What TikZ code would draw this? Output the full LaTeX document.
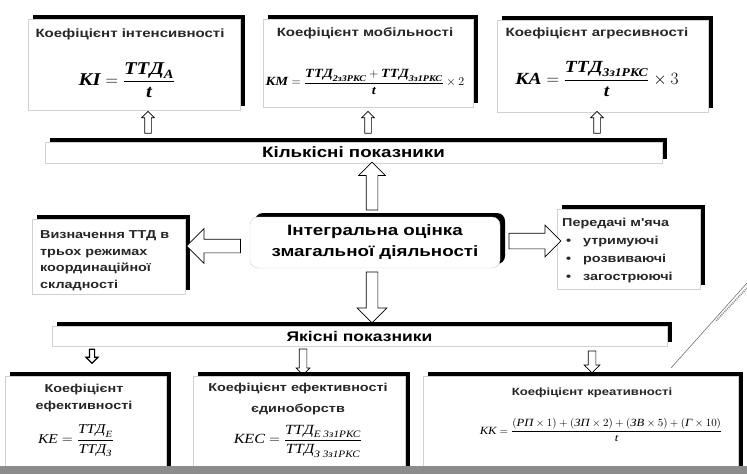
\documentclass[tikz,border=0pt]{standalone}
\usepackage{amsmath}
\usepackage{fontspec}
\usetikzlibrary{shapes.arrows,shadows,calc}
\newfontfamily\wsans[FakeStretch=1.25]{Liberation Sans}
\newfontfamily\fmlf[FakeStretch=1.15]{Liberation Serif}
\newcommand\fmlb{\fmlf\bfseries\itshape}
\newcommand\fmli{\fmlf\itshape}
\newcommand\fmB[1]{\mbox{\fmlb #1}}
\newcommand\fmBs[1]{\text{\fmlb #1}}
\newcommand\fmI[1]{\mbox{\fmli #1}}
\newcommand\fmIs[1]{\text{\fmli #1}}
\begin{document}
\begin{tikzpicture}[x=1pt,y=-1pt,
  sbox/.style={draw=black!18, fill=white, inner sep=0pt, line width=0.4pt,
    general shadow={fill=black, shadow xshift=5pt, shadow yshift=4pt}},
  harrow/.style={shape=single arrow, draw=black, fill=white, inner sep=0pt, line width=0.7pt},
  ttl/.style={font=\wsans\bfseries\fontsize{12}{14}\selectfont, text=black!85, align=center, inner sep=0pt},
  bartext/.style={font=\wsans\bfseries\fontsize{15}{17}\selectfont},
  small/.style={font=\wsans\bfseries\fontsize{11.5}{16.5}\selectfont, text=black!85, align=left, inner sep=0pt},
  fml/.style={inner sep=0pt}
]
\useasboundingbox (0,0) rectangle (747,474);
\fill[white] (0,0) rectangle (747,474);

% top boxes
\node[sbox, minimum width=212pt, minimum height=91pt] (t1) at (134,64.5) {};
\node[sbox, minimum width=210pt, minimum height=88pt] (t2) at (368,63) {};
\node[sbox, minimum width=211pt, minimum height=92pt] (t3) at (602.5,66) {};
\node[ttl] (t1t) at (130,34) {Коефіцієнт інтенсивності};
\node[ttl] (t2t) at (365,33) {Коефіцієнт мобільності};
\node[ttl] (t3t) at (597,33) {Коефіцієнт агресивності};
\node[fml, font=\fontsize{18}{21}\selectfont] (f1) at (127,80)
  {$\fmB{КІ} = \dfrac{\fmB{ТТД}_{\fmBs{А}}}{\fmB{t}}$};
\node[fml, font=\fontsize{12.5}{15}\selectfont] (f2) at (365,82)
  {$\fmB{КМ} = \dfrac{\fmB{ТТД}_{\fmBs{2з3РКС}} + \fmB{ТТД}_{\fmBs{3з1РКС}}}{\fmB{t}}\times 2$};
\node[fml, font=\fontsize{17}{20}\selectfont] (f3) at (597,79)
  {$\fmB{КА} = \dfrac{\fmB{ТТД}_{\fmBs{3з1РКС}}}{\fmB{t}}\times 3$};

% Кількісні показники
\node[sbox, minimum width=617pt, minimum height=21pt, bartext] (kil) at (353.5,152.5) {Кількісні показники};

\node[harrow, single arrow head extend=3pt, minimum height=22pt, rotate=90] (u1) at (148,124) {\rule{0pt}{6pt}};
\node[harrow, single arrow head extend=3pt, minimum height=22pt, rotate=90] (u2) at (368,124) {\rule{0pt}{6pt}};
\node[harrow, single arrow head extend=3pt, minimum height=22pt, rotate=90] (u3) at (597,124) {\rule{0pt}{6pt}};

% centre
\node[sbox, rounded corners=8pt, minimum width=250pt, minimum height=51pt, align=center,
  font=\wsans\bfseries\fontsize{15}{21}\selectfont] (c) at (375,242.5)
  {Інтегральна оцінка\\змагальної діяльності};

% left box
\node[sbox, minimum width=153pt, minimum height=75pt] (l) at (108.5,256.5) {};
\node[small, anchor=west] (lt) at (40,260.5)
  {Визначення ТТД в\\трьох режимах\\координаційної\\складності};

% right box
\node[sbox, minimum width=143pt, minimum height=80pt] (r) at (628.5,249) {};
\node[small, anchor=west, font=\wsans\bfseries\fontsize{11.5}{18}\selectfont] (rt) at (562,250.5)
  {Передачі м'яча\\\makebox[21pt][l]{\hspace{4pt}•}утримуючі\\\makebox[21pt][l]{\hspace{4pt}•}розвиваючі\\\makebox[21pt][l]{\hspace{4pt}•}загострюючі};

% hollow arrows around centre
\node[harrow, single arrow head extend=7.5pt, minimum height=48pt, rotate=90] (ac) at (372,189) {\rule{0pt}{11pt}};
\node[harrow, single arrow head extend=9pt, minimum height=51pt, rotate=-90] (ad) at (372,294.5) {\rule{0pt}{11pt}};
\node[harrow, single arrow head extend=10.5pt, minimum height=54pt, rotate=180] (al) at (217,246) {\rule{0pt}{13pt}};
\node[harrow, single arrow head extend=8pt, minimum height=52pt] (ar) at (531,241) {\rule{0pt}{15pt}};

% Якісні показники
\node[sbox, minimum width=615pt, minimum height=20pt, bartext, font=\wsans\bfseries\fontsize{14}{16}\selectfont] (yak) at (359.5,336) {Якісні показники};

\node[harrow, single arrow head extend=3.5pt, minimum height=14pt, rotate=-90, line width=1.2pt] (d1) at (92,355) {\rule{0pt}{4pt}};
\node[harrow, single arrow head extend=3pt, minimum height=26pt, rotate=-90] (d2) at (303,360) {\rule{0pt}{7pt}};
\node[harrow, single arrow head extend=4pt, minimum height=22pt, rotate=-90] (d3) at (592,360) {\rule{0pt}{7pt}};

% bottom boxes
\node[sbox, minimum width=161pt, minimum height=94pt] (b1) at (85.5,423) {};
\node[sbox, minimum width=212pt, minimum height=94pt] (b2) at (299,423) {};
\node[sbox, minimum width=315pt, minimum height=94pt] (b3) at (580.5,423) {};
\node[ttl, font=\wsans\bfseries\fontsize{11.5}{17}\selectfont] (b1t) at (84,398.5) {Коефіцієнт\\ефективності};
\node[ttl, font=\wsans\bfseries\fontsize{11.5}{21}\selectfont] (b2t) at (298,399.5) {Коефіцієнт ефективності\\єдиноборств};
\node[ttl, font=\wsans\bfseries\fontsize{10.5}{13}\selectfont] (b3t) at (592,393) {Коефіцієнт креативності};
\node[fml, font=\fontsize{13.5}{15}\selectfont] (fe) at (76,441)
  {$\fmI{КЕ} = \dfrac{\fmI{ТТД}_{\fmIs{Е}}}{\fmI{ТТД}_{\fmIs{З}}}$};
\node[fml, font=\fontsize{14}{16}\selectfont] (fec) at (298,441)
  {$\fmI{КЕС} = \dfrac{\fmI{ТТД}_{\fmIs{Е 3з1РКС}}}{\fmI{ТТД}_{\fmIs{З 3з1РКС}}}$};
\node[fml, font=\fontsize{11}{13}\selectfont] (fk) at (601,430)
  {$\fmI{КК} = \dfrac{(\fmI{РП}\times 1)+(\fmI{ЗП}\times 2)+(\fmI{ЗВ}\times 5)+(\fmI{Г}\times 10)}{\fmI{t}}$};

% decorative diagonal line
\draw[black!55, line width=0.6pt] (747,283) -- (671,368);
\draw[black!45, line width=1.6pt, dash pattern=on 1pt off 1pt] (747,288) -- (716,321);

% grey band at the bottom
\fill[black!45] (0,466) rectangle (747,474);
\end{tikzpicture}
\end{document}
